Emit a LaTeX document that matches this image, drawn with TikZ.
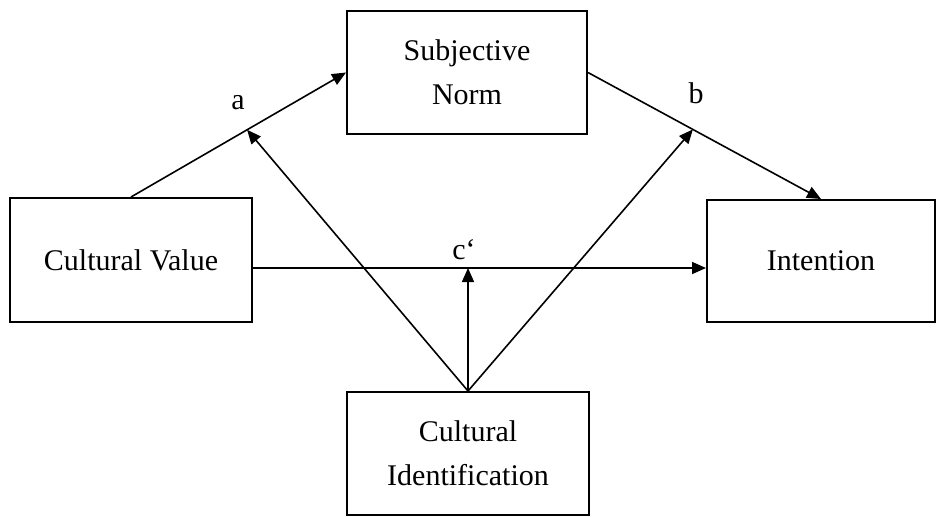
\documentclass[tikz,border=0pt]{standalone}
\usepackage{fontspec}
\setmainfont{Liberation Serif}
\usepackage{tikz}
\usetikzlibrary{arrows.meta,positioning}
\tikzstyle{arrow} = [line width=0.8pt,-{Triangle[length=7pt,width=6pt]}]
\tikzstyle{varbox} = [draw, line width=1pt, rectangle, align=center, inner sep=0pt, font=\fontsize{15}{22}\selectfont]
\begin{document}
\begin{tikzpicture}[x=0.5pt,y=-0.5pt]
		\useasboundingbox (0,0) rectangle (937,516);
		\coordinate (subnorm) at (467,72.5);
		\coordinate (culvalue) at (131,260);
		\coordinate (intention) at (821,261);
		\coordinate (culident) at (468,453.5);
		% Variables
		\begin{scope}[every node/.style={varbox}]
		\node[name=sn, minimum width=120pt, minimum height=61.5pt] at (subnorm) {Subjective\\Norm};
		\node[name=cv, minimum width=121pt, minimum height=62pt] at (culvalue) {Cultural Value};
		\node[name=int, minimum width=114pt, minimum height=61pt] at (intention) {Intention};
		\node[name=ci, minimum width=121pt, minimum height=61.5pt] at (culident) {Cultural\\Identification};
		\end{scope}
		% Paths
		\draw [arrow] (cv.north) -- node[pos=0.54, coordinate] (apath) {} (sn.west);
		\draw [arrow] (sn.east) -- node[pos=0.45, coordinate] (bpath) {} (int.north);
		\draw [arrow] ([yshift=-4pt]cv.east) coordinate (cpath) -- (int.west |- cpath);
		% Moderator
		\draw [arrow] (ci.north) -- (apath);
		\draw [arrow] (ci.north) -- (ci.north |- cpath);
		\draw [arrow] (ci.north) -- (bpath);
		% Labels
		\begin{scope}[every node/.style={font=\fontsize{15}{18}\selectfont}]
		\node[name=lbla] at (238,103) {a};
		\node[name=lblb] at (696,93) {b};
		\node[name=lblc] at (464,250) {c‘};
		\end{scope}
\end{tikzpicture}
\end{document}
